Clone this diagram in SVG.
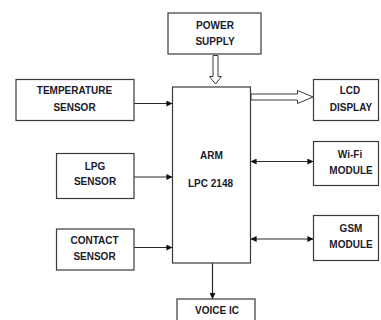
<svg xmlns="http://www.w3.org/2000/svg" width="381" height="320" viewBox="0 0 381 320">
<defs>
<style>
.box{fill:#fff;stroke:#3a3a3a;stroke-width:1.2}
.t{font-family:"Liberation Sans",Arial,sans-serif;font-weight:bold;font-size:10px;fill:#1a1a2a;text-anchor:middle}
.ln{stroke:#2a2a2a;stroke-width:1.2;fill:none}
.hollow{fill:#fff;stroke:#3a3a3a;stroke-width:1}
</style>
<marker id="ah" viewBox="0 0 8 8" refX="7.5" refY="4" markerWidth="6" markerHeight="6" markerUnits="userSpaceOnUse" orient="auto-start-reverse">
<path d="M0,0 L8,4 L0,8 z" fill="#111"/>
</marker>
</defs>
<rect width="381" height="320" fill="#fff"/>
<g id="connectors">
<line class="ln" x1="134" y1="103.5" x2="172" y2="103.5" marker-end="url(#ah)"/>
<line class="ln" x1="134" y1="177" x2="172" y2="177" marker-end="url(#ah)"/>
<line class="ln" x1="134" y1="247.5" x2="172" y2="247.5" marker-end="url(#ah)"/>
<line class="ln" x1="251" y1="161.5" x2="313" y2="161.5" marker-start="url(#ah)" marker-end="url(#ah)"/>
<line class="ln" x1="251" y1="239" x2="313" y2="239" marker-start="url(#ah)" marker-end="url(#ah)"/>
<line class="ln" x1="212.5" y1="263" x2="212.5" y2="298.5" marker-end="url(#ah)"/>
<path class="hollow" d="M213,55.5 L218,55.5 L218,76.5 L221.5,76.5 L215.5,84 L209.5,76.5 L213,76.5 z"/>
<path class="hollow" d="M251,94 L297.5,94 L297.5,90.5 L313,97 L297.5,103.5 L297.5,100 L251,100 z"/>
</g>
<g id="power">
<rect class="box" x="168" y="13" width="93" height="41"/>
<text class="t" x="215" y="28.6">POWER</text>
<text class="t" x="215" y="45.3">SUPPLY</text>
</g>
<g id="arm">
<rect class="box" x="172.5" y="87" width="78" height="176"/>
<text class="t" x="211.5" y="158.6">ARM</text>
<text class="t" x="210.5" y="186.9">LPC 2148</text>
</g>
<g id="temperature">
<rect class="box" x="16" y="79.5" width="118" height="41"/>
<text class="t" x="74.5" y="94.3">TEMPERATURE</text>
<text class="t" x="74.5" y="110.9">SENSOR</text>
</g>
<g id="lpg">
<rect class="box" x="56.5" y="153.5" width="77.5" height="45"/>
<text class="t" x="95" y="169.6">LPG</text>
<text class="t" x="95" y="185.3">SENSOR</text>
</g>
<g id="contact">
<rect class="box" x="56.5" y="229" width="77.5" height="41"/>
<text class="t" x="94.5" y="244.3">CONTACT</text>
<text class="t" x="94.5" y="260.3">SENSOR</text>
</g>
<g id="lcd">
<rect class="box" x="313.5" y="79.5" width="65" height="41"/>
<text class="t" x="350" y="94.3">LCD</text>
<text class="t" x="351" y="110.9">DISPLAY</text>
</g>
<g id="wifi">
<rect class="box" x="313.5" y="141.5" width="65" height="44"/>
<text class="t" x="350" y="157.6">Wi-Fi</text>
<text class="t" x="351" y="173.6">MODULE</text>
</g>
<g id="gsm">
<rect class="box" x="313.5" y="215.5" width="65" height="45"/>
<text class="t" x="351" y="231.6">GSM</text>
<text class="t" x="351" y="247.6">MODULE</text>
</g>
<g id="voice">
<rect class="box" x="177" y="299" width="78" height="30"/>
<text class="t" x="217" y="313.6">VOICE IC</text>
</g>
</svg>
